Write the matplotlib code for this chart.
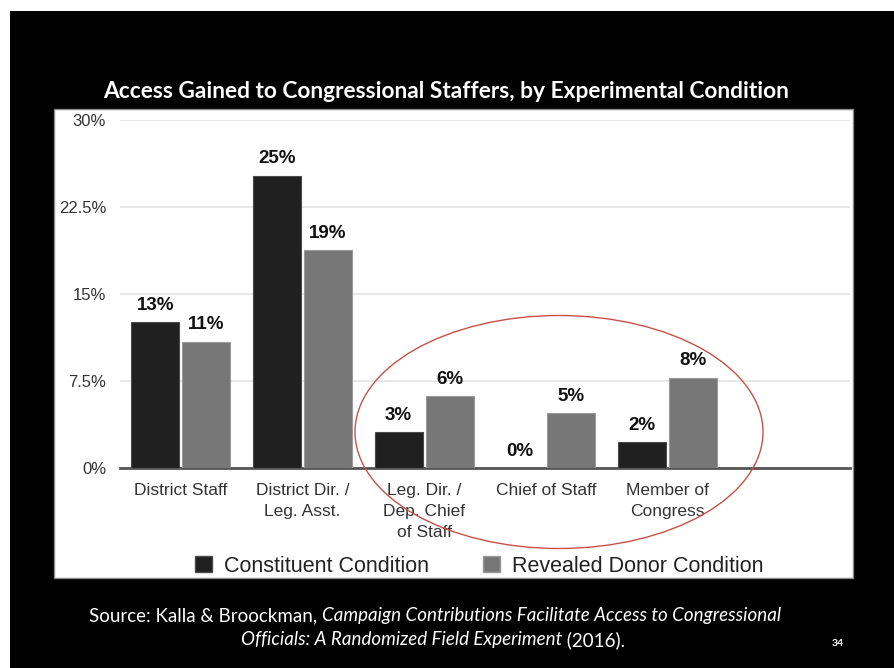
import matplotlib
matplotlib.use("Agg")
import matplotlib.pyplot as plt
from matplotlib.patches import Rectangle, Ellipse, Patch
import numpy as np

# data
categories = ["District Staff", "District Dir. /\nLeg. Asst.", "Leg. Dir. /\nDep. Chief\nof Staff",
              "Chief of Staff", "Member of\nCongress"]
constituent = [12.6, 25.2, 3.1, 0.0, 2.2]
donor = [10.9, 18.8, 6.2, 4.7, 7.8]
constituent_labels = ["13%", "25%", "3%", "0%", "2%"]
donor_labels = ["11%", "19%", "6%", "5%", "8%"]
yticks = [0, 7.5, 15, 22.5, 30]
ytick_labels = ["0%", "7.5%", "15%", "22.5%", "30%"]

W, H = 894, 668
fig = plt.figure(figsize=(W / 100, H / 100), dpi=100)
fig.patch.set_facecolor("white")

# black slide background and white chart panel
fig.patches.append(Rectangle((10 / W, 0), 1, 1 - 11 / H, transform=fig.transFigure,
                             facecolor="black", edgecolor="none", zorder=0))
fig.patches.append(Rectangle((54 / W, 1 - 578 / H), 799 / W, 469 / H, transform=fig.transFigure,
                             facecolor="white", edgecolor="#888888", linewidth=1, zorder=1))

ax = fig.add_axes([120 / W, 1 - 468 / H, 730 / W, 348 / H])
ax.set_facecolor("none")
ax.set_zorder(2)

x = np.arange(len(categories))
bw = 0.395
off = 0.21
b1 = ax.bar(x - off, constituent, bw, color="#202020", edgecolor="#4a4a4a", linewidth=0.8, zorder=3)
b2 = ax.bar(x + off, donor, bw, color="#777777", edgecolor="#9a9a9a", linewidth=0.8, zorder=3)

for rect, lab in zip(b1, constituent_labels):
    ax.annotate(lab, (rect.get_x() + rect.get_width() / 2, rect.get_height()),
                xytext=(0, 6), textcoords="offset points", ha="center", va="bottom",
                fontsize=13.5, fontweight="bold", family="Liberation Sans", color="#111111")
for rect, lab in zip(b2, donor_labels):
    ax.annotate(lab, (rect.get_x() + rect.get_width() / 2, rect.get_height()),
                xytext=(0, 6), textcoords="offset points", ha="center", va="bottom",
                fontsize=13.5, fontweight="bold", family="Liberation Sans", color="#111111")

ax.set_xlim(-0.5, 5.5)
ax.set_ylim(0, 30)
ax.set_yticks(yticks)
ax.set_yticklabels(ytick_labels, family="Liberation Sans", fontsize=12, color="#333333")
ax.set_xticks(x)
ax.set_xticklabels(categories, family="Liberation Sans", fontsize=12.5, color="#333333", va="top")
for t in ax.get_xticklabels():
    t.set_linespacing(1.5)
ax.tick_params(axis="both", length=0)
ax.tick_params(axis="y", pad=10)
ax.tick_params(axis="x", pad=11)
ax.grid(axis="y", color="#e4e4e4", linewidth=1.2, zorder=0)
for s in ["top", "right", "left"]:
    ax.spines[s].set_visible(False)
ax.spines["bottom"].set_color("#555555")
ax.spines["bottom"].set_linewidth(2)

# legend
handles = [Patch(facecolor="#202020", edgecolor="#4a4a4a"), Patch(facecolor="#777777", edgecolor="#9a9a9a")]
fig.legend(handles, ["Constituent Condition", "Revealed Donor Condition"], loc="center",
           bbox_to_anchor=(479 / W, 1 - 566 / H), ncol=2, frameon=False,
           prop={"family": "Liberation Sans", "size": 15.5},
           handlelength=0.8, handleheight=0.8, handletextpad=0.55, columnspacing=2.5,
           labelcolor="#222222")

# red ellipse
fig.patches.append(Ellipse((559 / W, 1 - 432 / H), 408 / W, 233 / H, transform=fig.transFigure,
                           facecolor="none", edgecolor="#c8504a", linewidth=1.0, zorder=5))

# title
fig.text(446 / W, 1 - 92 / H, "Access Gained to Congressional Staffers, by Experimental Condition",
         ha="center", va="center", color="white", fontsize=16.4, fontweight="bold", family="Lato")

# source lines with mixed styles
renderer = fig.canvas.get_renderer()


def mixed_line(pieces, xc, y):
    texts = []
    for s, style in pieces:
        t = fig.text(0, y, s, ha="left", va="center", color="white", fontsize=13.5,
                     family="Lato", style=style)
        texts.append(t)
    widths = [t.get_window_extent(renderer).width for t in texts]
    x0 = xc - sum(widths) / 2
    for t, w in zip(texts, widths):
        t.set_x(x0 / W)
        x0 += w


mixed_line([("Source: Kalla & Broockman, ", "normal"),
            ("Campaign Contributions Facilitate Access to Congressional", "italic")], 435, 1 - 616 / H)
mixed_line([("Officials: A Randomized Field Experiment", "italic"), (" (2016).", "normal")],
           433, 1 - 640 / H)

fig.text(838 / W, 1 - 643 / H, "34", ha="center", va="center", color="white", fontsize=7.5,
         fontweight="bold", family="Lato")

fig.savefig("out.png", dpi=100, facecolor=fig.get_facecolor())
